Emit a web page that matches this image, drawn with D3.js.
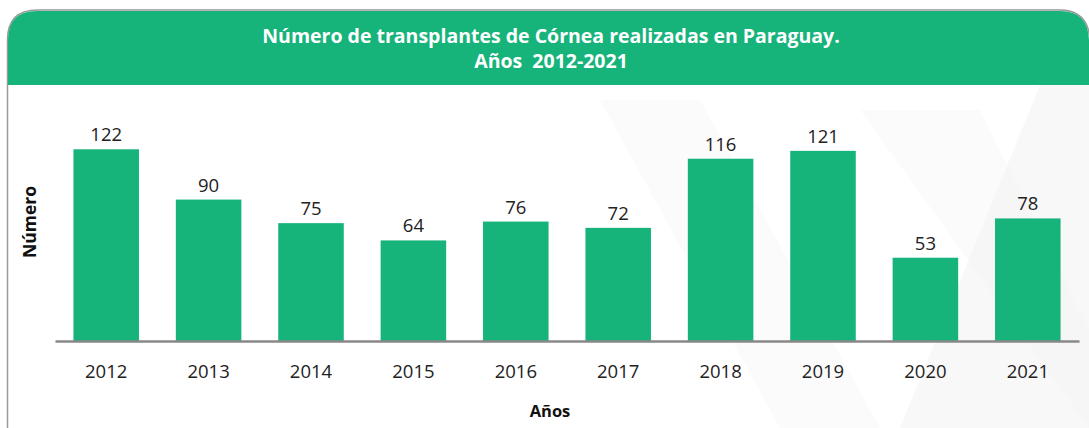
<!DOCTYPE html>
<html>
<head>
<meta charset="utf-8">
<script src="https://cdn.jsdelivr.net/npm/d3@7"></script>
<style>
  body { margin: 0; background: #fff; }
  svg text { font-family: "Open Sans", "Noto Sans", sans-serif; white-space: pre; }
</style>
</head>
<body>
<svg id="chart" width="1089" height="428"></svg>
<script>
// data
var years = ["2012", "2013", "2014", "2015", "2016", "2017", "2018", "2019", "2020", "2021"];
var values = [122, 90, 75, 64, 76, 72, 116, 121, 53, 78];
var titleLines = ["Número de transplantes de Córnea realizadas en Paraguay.", "Años  2012-2021"];

var svg = d3.select("#chart"),
  width = +svg.attr("width"),
  height = +svg.attr("height");

var green = "#16b37b";

// panel outline
svg.append("path")
  .attr("d", "M7.5,430 L7.5,40 Q7.5,10 37.5,10 L1060,10 Q1088,10 1090,40 L1090,430")
  .attr("fill", "#fff")
  .attr("stroke", "#9a9a9a")
  .attr("stroke-width", 1.5);

// faint background shapes
var bg = svg.append("g").attr("fill", "#f4f4f4");
bg.append("path").attr("d", "M1040,85 L1089,85 L1089,428 L900,428 Z").attr("opacity", 0.6);
bg.append("path").attr("d", "M600,100 L700,100 L880,428 L780,428 Z").attr("opacity", 0.35);
bg.append("path").attr("d", "M860,110 L980,110 L1089,330 L1089,428 Z").attr("opacity", 0.35);

// header
svg.append("path")
  .attr("d", "M8,85 L8,40 Q8,11 37,11 L1060,11 Q1088,11 1089,40 L1089,85 Z")
  .attr("fill", green);

svg.append("g")
  .selectAll("text")
  .data(titleLines)
  .enter()
  .append("text")
  .attr("x", 551)
  .attr("y", function (d, i) { return 43 + i * 25; })
  .attr("text-anchor", "middle")
  .attr("fill", "#fff")
  .attr("font-weight", "bold")
  .attr("font-size", "19.5px")
  .text(function (d) { return d; });

// scales
var x = d3.scaleBand()
  .domain(years)
  .range([55, 1079])
  .paddingInner(0.36)
  .paddingOuter(0.18);

var y = d3.scaleLinear()
  .domain([0, 140])
  .range([341, 121]);

// bars
svg.append("g")
  .selectAll("rect")
  .data(values)
  .enter()
  .append("rect")
  .attr("x", function (d, i) { return x(years[i]); })
  .attr("y", function (d) { return y(d); })
  .attr("width", x.bandwidth())
  .attr("height", function (d) { return y(0) - y(d); })
  .attr("fill", green);

// value labels
svg.append("g")
  .selectAll("text")
  .data(values)
  .enter()
  .append("text")
  .attr("x", function (d, i) { return x(years[i]) + x.bandwidth() / 2; })
  .attr("y", function (d) { return y(d) - 8; })
  .attr("text-anchor", "middle")
  .attr("fill", "#222")
  .attr("font-size", "18.5px")
  .text(function (d) { return d; });

// x axis
var xAxis = svg.append("g")
  .attr("transform", "translate(0," + y(0) + ")")
  .call(d3.axisBottom(x).tickSize(0).tickPadding(24));
xAxis.select(".domain")
  .attr("stroke", "#888")
  .attr("stroke-width", 2.5);
xAxis.selectAll("text")
  .attr("fill", "#222")
  .attr("font-size", "18.5px")
  .style("font-family", "'Open Sans', sans-serif");

// axis titles
svg.append("text")
  .attr("x", 550)
  .attr("y", 417)
  .attr("text-anchor", "middle")
  .attr("font-weight", "bold")
  .attr("font-size", "16.5px")
  .attr("fill", "#111")
  .text("Años");

svg.append("text")
  .attr("transform", "translate(36,222) rotate(-90)")
  .attr("text-anchor", "middle")
  .attr("font-weight", "bold")
  .attr("font-size", "17.5px")
  .attr("fill", "#111")
  .text("Número");
</script>
</body>
</html>
